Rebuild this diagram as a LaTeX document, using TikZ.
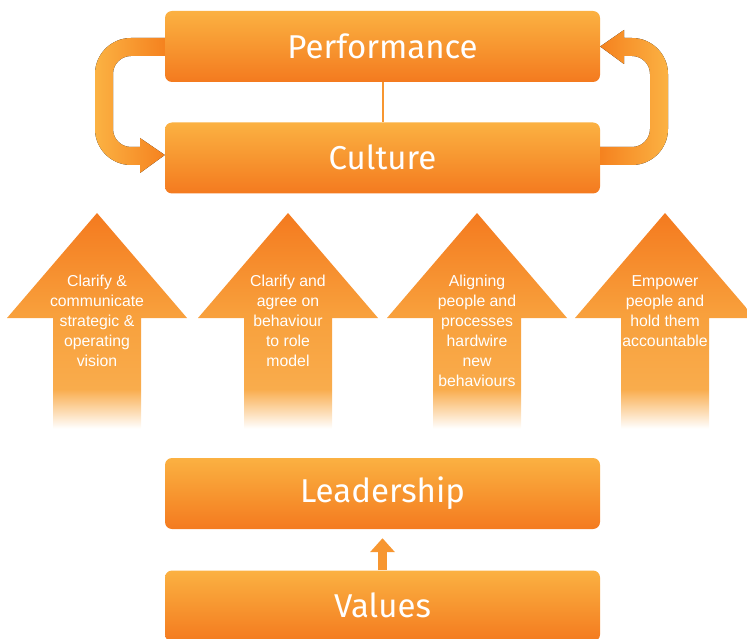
\documentclass[tikz,border=0pt]{standalone}
\usepackage{fontspec}
\setmainfont{Liberation Sans}
\newfontfamily\boxfont{Fira Sans}
\usetikzlibrary{arrows.meta}
\definecolor{orDark}{HTML}{F47A1F}
\definecolor{orLight}{HTML}{FBB142}
\definecolor{orMid}{HTML}{F79630}
\definecolor{orPale}{HTML}{F9AC4C}
\definecolor{orHead}{HTML}{F8A03C}
\definecolor{loopLight}{HTML}{FBB243}
\definecolor{loopDark}{HTML}{F5821F}
\pgfdeclareverticalshading{arrowfade}{100bp}{color(0bp)=(white); color(26bp)=(white); color(35bp)=(orPale); color(52bp)=(orHead); color(75bp)=(orDark); color(100bp)=(orDark)}
\begin{document}
\begin{tikzpicture}[x=1pt,y=-1pt]
\useasboundingbox (0,0) rectangle (747,639);
\tikzset{
  bigbox/.style={rectangle, rounded corners=7pt, minimum width=435pt, minimum height=71pt,
    top color=orLight, bottom color=orDark, middle color=orMid, text=white,
    font=\boxfont\fontsize{33}{38}\selectfont, inner sep=0pt},
  arrtext/.style={text=white, align=center, inner sep=0pt, anchor=north,
    font=\fontsize{15.8}{20}\selectfont},
  leftloop/.style={left color=loopLight, right color=loopDark},
  rightloop/.style={left color=loopDark, right color=loopLight},
  uparrow/.style={shading=arrowfade}
}
% boxes
\node[bigbox] (perf) at (382.5,46.5) {\raisebox{1.5pt}{Performance}};
\node[bigbox] (cult) at (382.5,158) {\raisebox{1.5pt}{Culture}};
\node[bigbox] (lead) at (382.5,493.5) {\raisebox{1.5pt}{Leadership}};
\node[bigbox] (vals) at (382.5,606) {\raisebox{1.5pt}{Values}};
% connector between performance and culture
\draw[orMid, line width=2pt] (perf.south) -- (cult.north);
% loop from Performance back down to Culture (left)
\fill[leftloop] (perf.west |- 0,38) -- (131,38)
   arc[start angle=270, end angle=180, radius=36] -- (95,129)
   arc[start angle=180, end angle=90, radius=36] -- (140,165) -- (140,173)
   -- ([yshift=3pt]cult.west) -- (140,138) -- (140,147) -- (131,147)
   arc[start angle=90, end angle=180, radius=18] -- (113,74)
   arc[start angle=180, end angle=270, radius=18] -- (perf.west |- 0,56) -- cycle;
% loop from Culture up to Performance (right)
\fill[rightloop] (cult.east |- 0,147) -- (632,147)
   arc[start angle=90, end angle=0, radius=18] -- (650,74)
   arc[start angle=0, end angle=-90, radius=18] -- (624,56) -- (624,64)
   -- (perf.east) -- (624,30) -- (624,38) -- (632,38)
   arc[start angle=270, end angle=360, radius=36] -- (668,129)
   arc[start angle=0, end angle=90, radius=36] -- (cult.east |- 0,165) -- cycle;
% up arrows
\foreach \cx in {97,288,477,665}{
  \shade[uparrow] (\cx,213) -- (\cx+90,318) -- (\cx+44,318) -- (\cx+44,433)
     -- (\cx-44,433) -- (\cx-44,318) -- (\cx-90,318) -- cycle;
}
\node[arrtext] (t1) at (97,275) {Clarify \&\\communicate\\strategic \&\\operating\\vision};
\node[arrtext] (t2) at (288,275) {Clarify and\\agree on\\behaviour\\to role\\model};
\node[arrtext] (t3) at (477,275) {Aligning\\people and\\processes\\hardwire\\new\\behaviours};
\node[arrtext] (t4) at (665,275) {Empower\\people and\\hold them\\accountable};
% small arrow values -> leadership
\draw[orMid, line width=9pt, -{Triangle[width=24pt,length=14pt]}] (vals.north) -- ([yshift=-9pt]lead.south);
\end{tikzpicture}
\end{document}
